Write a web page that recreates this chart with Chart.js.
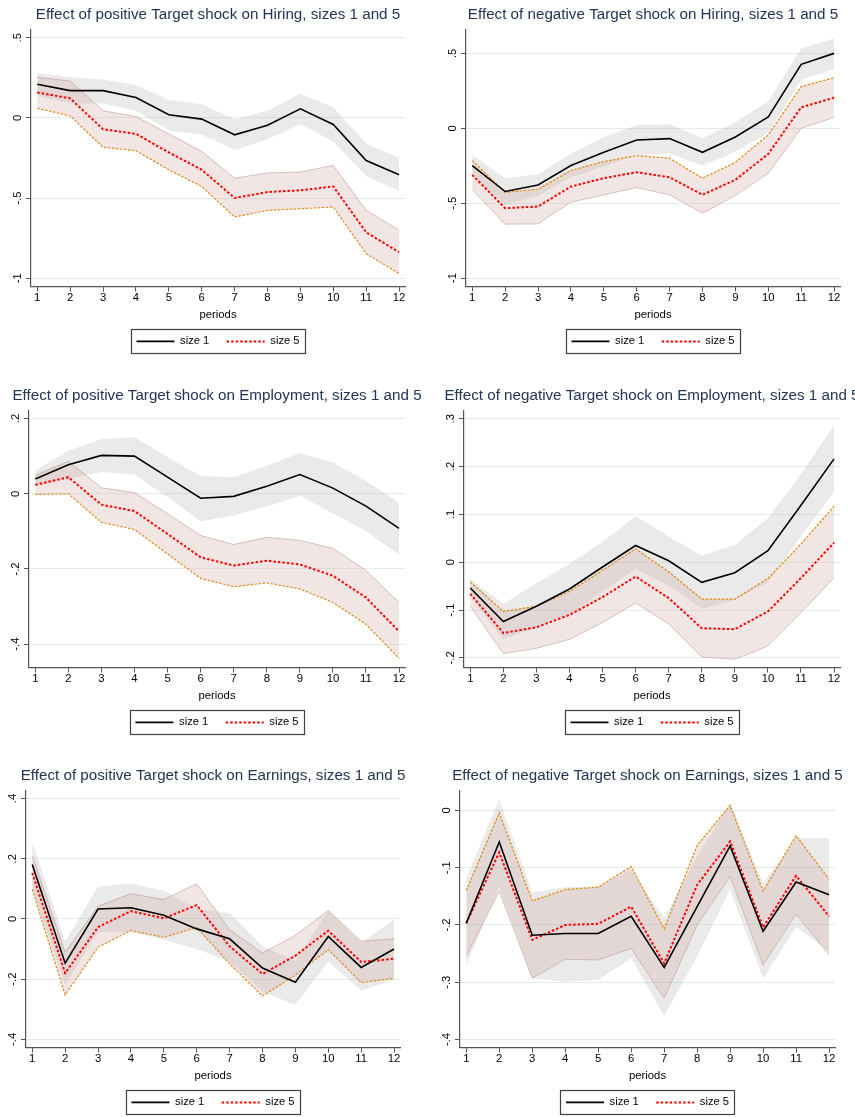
<!DOCTYPE html>
<html>
<head>
<meta charset="utf-8">
<script src="https://cdn.jsdelivr.net/npm/chart.js@4.4.1/dist/chart.umd.min.js"></script>
<style>
html,body{margin:0;padding:0;background:#ffffff;}
body{width:855px;height:1117px;overflow:hidden;position:relative;}
canvas{position:absolute;}
</style>
</head>
<body>
<script>
// ---------------- data ----------------
const periods = [1, 2, 3, 4, 5, 6, 7, 8, 9, 10, 11, 12];

const titles = [
  'Effect of positive Target shock on Hiring, sizes 1 and 5',
  'Effect of negative Target shock on Hiring, sizes 1 and 5',
  'Effect of positive Target shock on Employment, sizes 1 and 5',
  'Effect of negative Target shock on Employment, sizes 1 and 5',
  'Effect of positive Target shock on Earnings, sizes 1 and 5',
  'Effect of negative Target shock on Earnings, sizes 1 and 5'
];
const seriesNames = ['size 1', 'size 5'];
const xAxisTitle = 'periods';

// Hiring, positive shock
const hirePosS1   = [0.21, 0.17, 0.17, 0.127, 0.019, -0.008, -0.106, -0.046, 0.056, -0.041, -0.266, -0.355];
const hirePosS1Hi = [0.28, 0.253, 0.24, 0.205, 0.112, 0.085, -0.008, 0.044, 0.15, 0.066, -0.162, -0.251];
const hirePosS1Lo = [0.14, 0.09, 0.09, 0.044, -0.079, -0.106, -0.2, -0.133, -0.04, -0.147, -0.365, -0.455];
const hirePosS5   = [0.158, 0.122, -0.071, -0.1, -0.216, -0.324, -0.5, -0.463, -0.452, -0.428, -0.714, -0.838];
const hirePosS5Hi = [0.253, 0.23, 0.044, 0.008, -0.1, -0.21, -0.376, -0.344, -0.338, -0.297, -0.577, -0.701];
const hirePosS5Lo = [0.06, 0.012, -0.183, -0.205, -0.324, -0.428, -0.618, -0.577, -0.567, -0.556, -0.847, -0.971];

// Hiring, negative shock
const hireNegS1   = [-0.249, -0.422, -0.378, -0.249, -0.16, -0.078, -0.069, -0.16, -0.058, 0.076, 0.427, 0.5];
const hireNegS1Hi = [-0.178, -0.333, -0.307, -0.167, -0.06, 0.022, 0.027, -0.067, 0.04, 0.182, 0.533, 0.6];
const hireNegS1Lo = [-0.315, -0.507, -0.452, -0.327, -0.255, -0.179, -0.166, -0.25, -0.156, -0.031, 0.322, 0.396];
const hireNegS5   = [-0.311, -0.533, -0.522, -0.389, -0.333, -0.293, -0.327, -0.444, -0.344, -0.171, 0.14, 0.204];
const hireNegS5Hi = [-0.216, -0.427, -0.407, -0.282, -0.222, -0.182, -0.2, -0.333, -0.227, -0.044, 0.278, 0.338];
const hireNegS5Lo = [-0.411, -0.64, -0.638, -0.493, -0.444, -0.396, -0.444, -0.567, -0.449, -0.3, 0.0, 0.073];

// Employment, positive shock
const empPosS1   = [0.039, 0.077, 0.102, 0.1, 0.044, -0.012, -0.007, 0.02, 0.051, 0.015, -0.033, -0.092];
const empPosS1Hi = [0.062, 0.114, 0.145, 0.151, 0.098, 0.047, 0.044, 0.074, 0.108, 0.083, 0.034, -0.024];
const empPosS1Lo = [0.018, 0.04, 0.058, 0.051, -0.009, -0.073, -0.058, -0.034, -0.006, -0.052, -0.1, -0.162];
const empPosS5   = [0.024, 0.044, -0.029, -0.046, -0.107, -0.169, -0.191, -0.178, -0.188, -0.218, -0.276, -0.366];
const empPosS5Hi = [0.049, 0.086, 0.016, 0.003, -0.053, -0.111, -0.135, -0.116, -0.124, -0.145, -0.204, -0.289];
const empPosS5Lo = [-0.002, 0.0, -0.076, -0.095, -0.16, -0.225, -0.247, -0.237, -0.253, -0.289, -0.347, -0.438];

// Employment, negative shock
const empNegS1   = [-0.054, -0.124, -0.092, -0.056, -0.01, 0.035, 0.003, -0.042, -0.022, 0.024, 0.119, 0.216];
const empNegS1Hi = [-0.035, -0.087, -0.044, -0.003, 0.043, 0.096, 0.054, 0.014, 0.036, 0.092, 0.184, 0.286];
const empNegS1Lo = [-0.073, -0.161, -0.136, -0.108, -0.061, -0.014, -0.049, -0.098, -0.079, -0.042, 0.054, 0.147];
const empNegS5   = [-0.066, -0.148, -0.136, -0.11, -0.073, -0.03, -0.075, -0.138, -0.14, -0.103, -0.033, 0.041];
const empNegS5Hi = [-0.041, -0.103, -0.092, -0.061, -0.017, 0.028, -0.02, -0.077, -0.077, -0.034, 0.038, 0.117];
const empNegS5Lo = [-0.092, -0.191, -0.18, -0.161, -0.126, -0.085, -0.129, -0.198, -0.203, -0.175, -0.105, -0.033];

// Earnings, positive shock
const earnPosS1   = [0.181, -0.147, 0.033, 0.037, 0.012, -0.033, -0.066, -0.163, -0.21, -0.058, -0.161, -0.1];
const earnPosS1Hi = [0.256, -0.074, 0.107, 0.118, 0.094, 0.033, 0.02, -0.091, -0.138, 0.026, -0.08, -0.002];
const earnPosS1Lo = [0.103, -0.219, -0.044, -0.044, -0.069, -0.1, -0.141, -0.241, -0.286, -0.141, -0.238, -0.202];
const earnPosS5   = [0.153, -0.18, -0.027, 0.026, 0.002, 0.046, -0.091, -0.183, -0.122, -0.039, -0.143, -0.132];
const earnPosS5Hi = [0.211, -0.111, 0.042, 0.084, 0.064, 0.117, -0.036, -0.113, -0.054, 0.028, -0.074, -0.066];
const earnPosS5Lo = [0.098, -0.252, -0.094, -0.038, -0.061, -0.028, -0.149, -0.256, -0.186, -0.102, -0.211, -0.197];

// Earnings, negative shock
const earnNegS1   = [-0.197, -0.055, -0.218, -0.215, -0.215, -0.185, -0.274, -0.168, -0.062, -0.211, -0.125, -0.147];
const earnNegS1Hi = [-0.118, 0.019, -0.143, -0.134, -0.133, -0.104, -0.188, -0.08, 0.013, -0.127, -0.048, -0.048];
const earnNegS1Lo = [-0.271, -0.133, -0.293, -0.299, -0.296, -0.258, -0.359, -0.255, -0.138, -0.294, -0.203, -0.246];
const earnNegS5   = [-0.197, -0.073, -0.226, -0.2, -0.198, -0.168, -0.267, -0.13, -0.054, -0.204, -0.114, -0.185];
const earnNegS5Hi = [-0.14, -0.004, -0.158, -0.138, -0.134, -0.098, -0.207, -0.061, 0.009, -0.141, -0.044, -0.12];
const earnNegS5Lo = [-0.254, -0.141, -0.293, -0.26, -0.261, -0.241, -0.328, -0.2, -0.115, -0.27, -0.181, -0.252];

// y tick values and labels
const hireTicks = [-1, -0.5, 0, 0.5];
const hireTickLabels = ['-1', '-.5', '0', '.5'];
const empPosTicks = [-0.4, -0.2, 0, 0.2];
const empPosTickLabels = ['-.4', '-.2', '0', '.2'];
const empNegTicks = [-0.2, -0.1, 0, 0.1, 0.2, 0.3];
const empNegTickLabels = ['-.2', '-.1', '0', '.1', '.2', '.3'];
const earnPosTicks = [-0.4, -0.2, 0, 0.2, 0.4];
const earnPosTickLabels = ['-.4', '-.2', '0', '.2', '.4'];
const earnNegTicks = [-0.4, -0.3, -0.2, -0.1, 0];
const earnNegTickLabels = ['-.4', '-.3', '-.2', '-.1', '0'];

// ---------------- fonts ----------------
function fontAvailable(name) {
  const c = document.createElement('canvas').getContext('2d');
  const s = 'abcdefghijklmnopqrstuvwxyz ABCDEFGHIJ 0123456789';
  c.font = '40px monospace';
  const a = c.measureText(s).width;
  c.font = '40px "' + name + '", monospace';
  const b = c.measureText(s).width;
  return Math.abs(a - b) > 0.5;
}
const HAS_NARROW = fontAvailable('Liberation Sans Narrow');
const FAM = HAS_NARROW
  ? '"Liberation Sans Narrow", "Liberation Sans", sans-serif'
  : '"Liberation Sans", Arial, sans-serif';
const mctx = document.createElement('canvas').getContext('2d');
function textW(t, size) { mctx.font = size + 'px ' + FAM; return mctx.measureText(t).width; }
const TITLE_SIZE = HAS_NARROW ? 18 * 354 / textW(titles[0], 18) : 15.2;
const TICK_SIZE = HAS_NARROW ? 12.7 : 11.3;
const LEG_SIZE = HAS_NARROW ? 12.5 : 11.2;

// ---------------- layout ----------------
const SIDE = 34;             // width of y-axis box (and mirrored invisible right box)
const CHART_TOP = 30;
const CHART_BOTTOM = 286.5;
const LEGEND_CENTER = 341.2;
const LEG_PAD = 17.4;
const CANVAS_H = Math.round(LEGEND_CENTER + LEG_SIZE / 2 + 10);
const LEGEND_H = LEG_SIZE + LEG_PAD + 10;
const X_AXIS_H = (CANVAS_H - LEGEND_H) - CHART_BOTTOM;
const TICK_LEN = 5;

const panelDefs = [
  { axisX: 31,  axisR: 405, top: 0,   yMin: -1.052, yMax: 0.548, orangeLower: true,
    s1: hirePosS1, s1Hi: hirePosS1Hi, s1Lo: hirePosS1Lo, s5: hirePosS5, s5Hi: hirePosS5Hi, s5Lo: hirePosS5Lo,
    yTicks: hireTicks, yLabels: hireTickLabels },
  { axisX: 466, axisR: 840, top: 0,   yMin: -1.056, yMax: 0.656, orangeLower: false,
    s1: hireNegS1, s1Hi: hireNegS1Hi, s1Lo: hireNegS1Lo, s5: hireNegS5, s5Hi: hireNegS5Hi, s5Lo: hireNegS5Lo,
    yTicks: hireTicks, yLabels: hireTickLabels },
  { axisX: 29,  axisR: 405, top: 381, yMin: -0.462, yMax: 0.22, orangeLower: true,
    s1: empPosS1, s1Hi: empPosS1Hi, s1Lo: empPosS1Lo, s5: empPosS5, s5Hi: empPosS5Hi, s5Lo: empPosS5Lo,
    yTicks: empPosTicks, yLabels: empPosTickLabels },
  { axisX: 464, axisR: 840, top: 381, yMin: -0.22, yMax: 0.316, orangeLower: false,
    s1: empNegS1, s1Hi: empNegS1Hi, s1Lo: empNegS1Lo, s5: empNegS5, s5Hi: empNegS5Hi, s5Lo: empNegS5Lo,
    yTicks: empNegTicks, yLabels: empNegTickLabels },
  { axisX: 26,  axisR: 400, top: 761, yMin: -0.427, yMax: 0.425, orangeLower: true,
    s1: earnPosS1, s1Hi: earnPosS1Hi, s1Lo: earnPosS1Lo, s5: earnPosS5, s5Hi: earnPosS5Hi, s5Lo: earnPosS5Lo,
    yTicks: earnPosTicks, yLabels: earnPosTickLabels },
  { axisX: 460, axisR: 835, top: 761, yMin: -0.414, yMax: 0.034, orangeLower: false,
    s1: earnNegS1, s1Hi: earnNegS1Hi, s1Lo: earnNegS1Lo, s5: earnNegS5, s5Hi: earnNegS5Hi, s5Lo: earnNegS5Lo,
    yTicks: earnNegTicks, yLabels: earnNegTickLabels }
];

// ---------------- styles ----------------
const TITLE_COLOR = '#243457';
const AXIS_COLOR = '#555555';
const GRID_COLOR = '#e3edf0';
const GREY_BAND = 'rgba(150,150,150,0.2)';
const PINK_BAND = 'rgba(208,172,165,0.3)';
const ORANGE = { borderColor: '#e2880e', borderWidth: 1.2, borderDash: [2.5, 1.5] };
const PINK_EDGE = { borderColor: 'rgba(170,125,125,0.45)', borderWidth: 1, borderDash: [] };
const NONE = 'rgba(0,0,0,0)';

const legendFrame = {
  id: 'legendFrame',
  afterDraw(chart) {
    const hb = chart.legend && chart.legend.legendHitBoxes;
    if (!hb || !hb.length) return;
    const l = Math.min(...hb.map(h => h.left)) - 5.5;
    const r = Math.max(...hb.map(h => h.left + h.width)) + 5.5;
    const cy = hb[0].top + hb[0].height / 2;
    const ctx = chart.ctx;
    ctx.save();
    ctx.strokeStyle = '#404040';
    ctx.lineWidth = 1.2;
    ctx.setLineDash([]);
    ctx.strokeRect(Math.round(l) + 0.5, Math.round(cy - 12) + 0.5, Math.round(r - l), 24);
    ctx.restore();
  }
};

const pts = arr => arr.map((v, i) => ({ x: periods[i], y: v }));
const font = (size, lh) => ({ family: FAM, size: size, weight: 'normal', lineHeight: lh });

panelDefs.forEach((p, k) => {
  const cv = document.createElement('canvas');
  const left = p.axisX - SIDE;
  const width = (p.axisR - p.axisX) + 2 * SIDE;
  cv.width = width;
  cv.height = CANVAS_H;
  cv.style.left = left + 'px';
  cv.style.top = p.top + 'px';
  cv.style.width = width + 'px';
  cv.style.height = CANVAS_H + 'px';
  document.body.appendChild(cv);

  const widest = Math.max(...p.yLabels.map(t => textW(t, TICK_SIZE)));
  const yPad = 12.7 - TICK_LEN - widest / 2;
  const lhT = TITLE_SIZE * 1.2;
  const tPad = CHART_TOP / 2 - lhT / 2;

  new Chart(cv, {
    type: 'line',
    data: {
      datasets: [
        { label: 's1lo', data: pts(p.s1Lo), borderColor: NONE, borderWidth: 0, pointRadius: 0, fill: false, order: 5 },
        { label: 's1hi', data: pts(p.s1Hi), borderColor: NONE, borderWidth: 0, pointRadius: 0, fill: '-1', backgroundColor: GREY_BAND, order: 4 },
        Object.assign({ label: 's5lo', data: pts(p.s5Lo), pointRadius: 0, fill: false, order: 3 }, p.orangeLower ? ORANGE : PINK_EDGE),
        Object.assign({ label: 's5hi', data: pts(p.s5Hi), pointRadius: 0, fill: '-1', backgroundColor: PINK_BAND, order: 2 }, p.orangeLower ? PINK_EDGE : ORANGE),
        { label: seriesNames[0], data: pts(p.s1), borderColor: '#000000', borderWidth: 1.6, pointRadius: 0, fill: false, order: 0 },
        { label: seriesNames[1], data: pts(p.s5), borderColor: '#ff0000', borderWidth: 2, borderDash: [2.5, 2], pointRadius: 0, fill: false, order: 1 }
      ]
    },
    options: {
      responsive: false,
      animation: false,
      events: [],
      devicePixelRatio: 1,
      layout: { padding: 0 },
      elements: { line: { tension: 0 } },
      plugins: {
        tooltip: { enabled: false },
        title: {
          display: true, text: titles[k], color: TITLE_COLOR, fullSize: true, align: 'center',
          font: font(TITLE_SIZE, 1.2), padding: { top: tPad, bottom: tPad }
        },
        legend: {
          display: true, position: 'bottom', align: 'center', fullSize: true,
          labels: {
            usePointStyle: true, pointStyleWidth: 38, boxHeight: LEG_SIZE, padding: LEG_PAD,
            color: '#000000', font: font(LEG_SIZE, 1),
            generateLabels: chart => [4, 5].map(i => {
              const ds = chart.data.datasets[i];
              return {
                text: ds.label, datasetIndex: i, hidden: false,
                strokeStyle: ds.borderColor, fillStyle: ds.borderColor,
                lineWidth: ds.borderWidth, lineDash: ds.borderDash || [],
                pointStyle: 'line', fontColor: '#000000'
              };
            })
          }
        }
      },
      scales: {
        x: {
          type: 'linear', position: 'bottom', min: 0.81, max: 12.18,
          afterBuildTicks: s => { s.ticks = periods.map(v => ({ value: v })); },
          afterFit: s => { s.height = X_AXIS_H; },
          ticks: {
            autoSkip: false, minRotation: 0, maxRotation: 0, padding: 1.15,
            color: '#000000', font: font(TICK_SIZE, 1),
            callback: (v, i) => String(periods[i])
          },
          grid: { display: true, drawOnChartArea: false, drawTicks: true, tickLength: TICK_LEN, tickColor: AXIS_COLOR, tickWidth: 1 },
          border: { display: true, color: AXIS_COLOR, width: 1.2 },
          title: { display: true, text: xAxisTitle, color: '#000000', font: font(TICK_SIZE, 1), padding: { top: 0, bottom: -2.3 } }
        },
        y: {
          type: 'linear', position: 'left', min: p.yMin, max: p.yMax,
          afterBuildTicks: s => { s.ticks = p.yTicks.map(v => ({ value: v })); },
          afterFit: s => { s.width = SIDE; },
          ticks: {
            minRotation: 90, maxRotation: 90, crossAlign: 'center', padding: yPad,
            color: '#000000', font: font(TICK_SIZE, 1),
            callback: (v, i) => p.yLabels[i]
          },
          grid: { display: true, drawOnChartArea: true, color: GRID_COLOR, lineWidth: 1, drawTicks: true, tickLength: TICK_LEN, tickColor: AXIS_COLOR, tickWidth: 1 },
          border: { display: true, color: AXIS_COLOR, width: 1.2 }
        },
        yR: {
          type: 'linear', position: 'right', display: true,
          afterFit: s => { s.width = SIDE; },
          ticks: { display: false },
          grid: { display: false, drawTicks: false },
          border: { display: false }
        }
      }
    },
    plugins: [legendFrame]
  });
});
</script>
</body>
</html>
